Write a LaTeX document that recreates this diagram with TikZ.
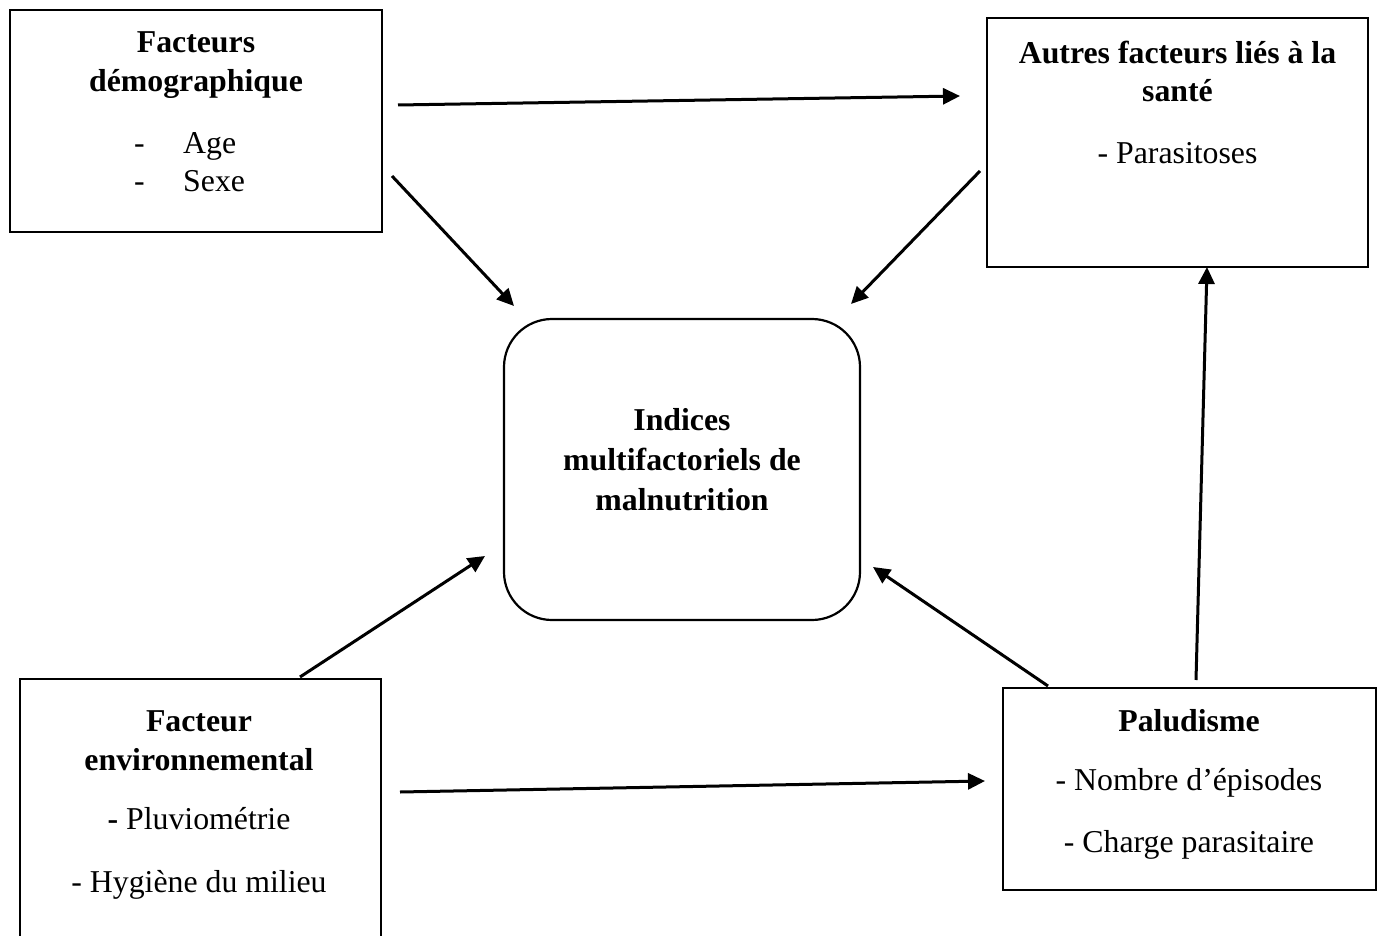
\documentclass[tikz,border=0pt]{standalone}
\usepackage{fontspec}
\setmainfont{Liberation Serif}
\usetikzlibrary{arrows.meta}
\begin{document}
\begin{tikzpicture}[x=1pt,y=-1pt,
  box/.style={draw,line width=2.2pt,inner sep=0pt,outer sep=0pt},
  txt/.style={anchor=base,inner sep=0pt,font=\fontsize{31.8}{36}\selectfont},
  btxt/.style={anchor=base,inner sep=0pt,font=\fontsize{31.8}{36}\selectfont\bfseries},
  arr/.style={line width=3pt,-{Triangle[length=17pt,width=16pt]}}]
\useasboundingbox (0,0) rectangle (1379,936);
\clip (0,0) rectangle (1379,936);
% boxes
\node[box,minimum width=372pt,minimum height=222pt] (demo) at (196,121) {};
\node[box,minimum width=381pt,minimum height=249pt] (autres) at (1177.5,142.5) {};
\node[box,rounded corners=48pt,minimum width=356pt,minimum height=301pt] (indices) at (682,469.5) {};
\node[box,minimum width=361pt,minimum height=281pt] (env) at (200.5,819.5) {};
\node[box,minimum width=373pt,minimum height=202pt] (palu) at (1189.5,789) {};
% texts
\node[btxt] (t1) at (196,53) {Facteurs};
\node[btxt] (t2) at (196,92) {démographique};
\node[txt,anchor=base west] (t3a) at (134,154) {-};
\node[txt,anchor=base west] (t3) at (183,154) {Age};
\node[txt,anchor=base west] (t4a) at (134,192) {-};
\node[txt,anchor=base west] (t4) at (183,192) {Sexe};
\node[btxt] (u1) at (1177.5,64) {Autres facteurs liés à la};
\node[btxt] (u2) at (1177.5,102) {santé};
\node[txt] (u3) at (1177.5,164) {- Parasitoses};
\node[btxt] (c1) at (682,430) {Indices};
\node[btxt] (c2) at (682,470) {multifactoriels de};
\node[btxt] (c3) at (682,510) {malnutrition};
\node[btxt] (e1) at (199,731) {Facteur};
\node[btxt] (e2) at (199,770) {environnemental};
\node[txt] (e3) at (199,829) {\textbf{-} Pluviométrie};
\node[txt] (e4) at (199,892) {- Hygiène du milieu};
\node[btxt] (p1) at (1189,731) {Paludisme};
\node[txt] (p2) at (1189,790) {- Nombre d’épisodes};
\node[txt] (p3) at (1189,852) {- Charge parasitaire};
% connector ends
\coordinate (a1s) at (398,105); \coordinate (a1e) at (960,96);
\coordinate (a2s) at (392,176); \coordinate (a2e) at (514,306);
\coordinate (a3s) at (980,171); \coordinate (a3e) at (851,304);
\coordinate (a4s) at (1196,680); \coordinate (a4e) at (1207,267);
\coordinate (a5s) at (1048,686); \coordinate (a5e) at (873,567);
\coordinate (a6s) at (300,677); \coordinate (a6e) at (485,556);
\coordinate (a7s) at (400,792); \coordinate (a7e) at (985,781);
\draw[arr] (a1s) -- (a1e);
\draw[arr] (a2s) -- (a2e);
\draw[arr] (a3s) -- (a3e);
\draw[arr] (a4s) -- (a4e);
\draw[arr] (a5s) -- (a5e);
\draw[arr] (a6s) -- (a6e);
\draw[arr] (a7s) -- (a7e);
\end{tikzpicture}
\end{document}
